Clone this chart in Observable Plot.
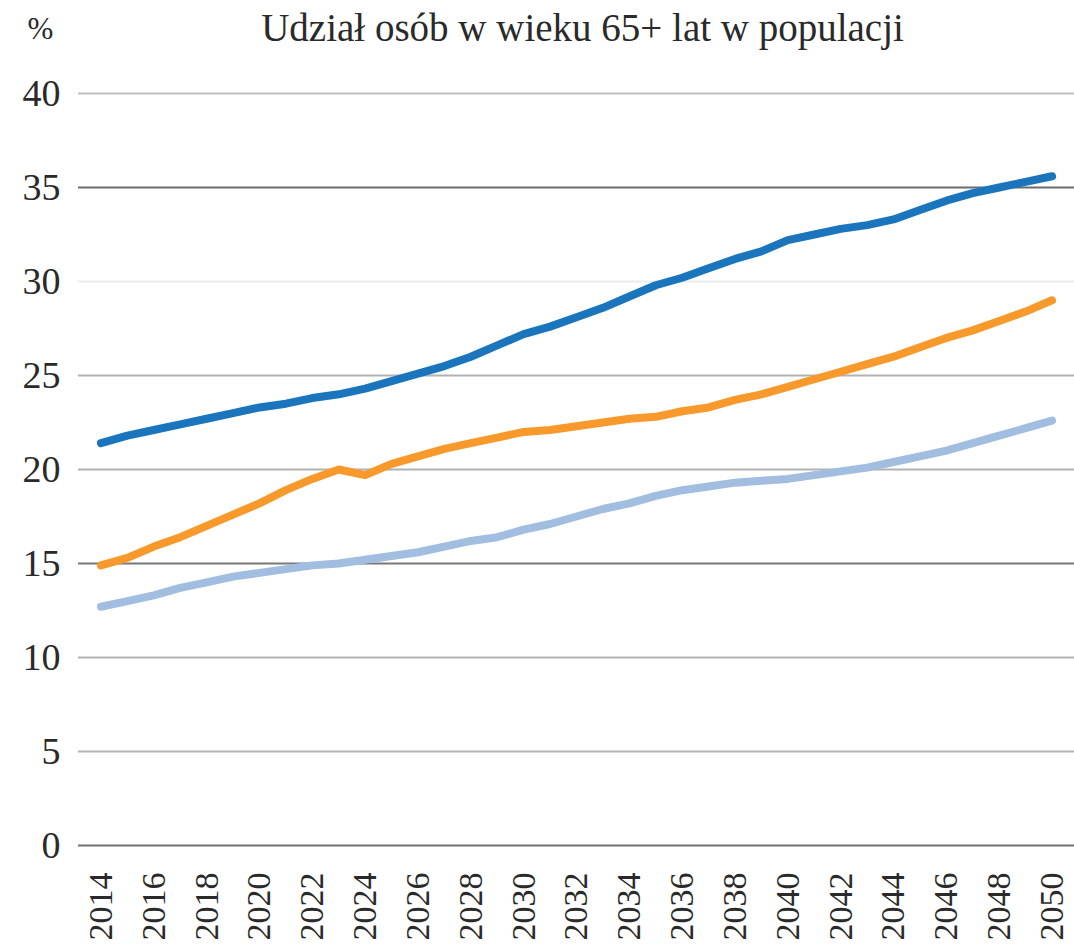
<!DOCTYPE html>
<html><head><meta charset="utf-8">
<script src="https://cdn.jsdelivr.net/npm/d3@7"></script>
<script src="https://cdn.jsdelivr.net/npm/@observablehq/plot@0.6"></script>
<style>body{margin:0;background:#fff} svg{display:block}</style>
</head><body><div id="chart"></div>
<script>
const years = [2014,2015,2016,2017,2018,2019,2020,2021,2022,2023,2024,2025,2026,2027,2028,2029,2030,2031,2032,2033,2034,2035,2036,2037,2038,2039,2040,2041,2042,2043,2044,2045,2046,2047,2048,2049,2050];
const seriesDark = [21.4,21.8,22.1,22.4,22.7,23.0,23.3,23.5,23.8,24.0,24.3,24.7,25.1,25.5,26.0,26.6,27.2,27.6,28.1,28.6,29.2,29.8,30.2,30.7,31.2,31.6,32.2,32.5,32.8,33.0,33.3,33.8,34.3,34.7,35.0,35.3,35.6];
const seriesOrange = [14.9,15.3,15.9,16.4,17.0,17.6,18.2,18.9,19.5,20.0,19.7,20.3,20.7,21.1,21.4,21.7,22.0,22.1,22.3,22.5,22.7,22.8,23.1,23.3,23.7,24.0,24.4,24.8,25.2,25.6,26.0,26.5,27.0,27.4,27.9,28.4,29.0];
const seriesLight = [12.7,13.0,13.3,13.7,14.0,14.3,14.5,14.7,14.9,15.0,15.2,15.4,15.6,15.9,16.2,16.4,16.8,17.1,17.5,17.9,18.2,18.6,18.9,19.1,19.3,19.4,19.5,19.7,19.9,20.1,20.4,20.7,21.0,21.4,21.8,22.2,22.6];
const yTicks = [0,5,10,15,20,25,30,35,40];
const xTicks = [2014,2016,2018,2020,2022,2024,2026,2028,2030,2032,2034,2036,2038,2040,2042,2044,2046,2048,2050];
const title = "Udział osób w wieku 65+ lat w populacji";
const unit = "%";

// styles
const gridStroke = {0:"#707070",5:"#b4b4b4",10:"#b4b4b4",15:"#787878",20:"#b2b2b2",25:"#b2b2b2",30:"#ececec",35:"#6c6c6c",40:"#c0c0c0"};
const lineColors = ["#1a75bd","#f7992b","#a1bde0"];

const toRows = vals => years.map((yr, i) => ({year: yr, value: vals[i]}));

const chart = Plot.plot({
  width: 1074, height: 952,
  marginTop: 93, marginBottom: 107, marginLeft: 78, marginRight: 0,
  style: {fontFamily: "'Liberation Serif', 'Times New Roman', serif", fontSize: "38px", color: "#2a2a2a", background: "#fff", overflow: "visible"},
  x: {domain: [2013.15, 2050.85]},
  y: {domain: [0, 40]},
  marks: [
    ...yTicks.map(t => Plot.ruleY([t], {stroke: gridStroke[t], strokeWidth: 2})),
    Plot.axisY({ticks: yTicks, tickSize: 0, tickPadding: 18, label: null, fontSize: 38}),
    Plot.axisX({ticks: xTicks, tickFormat: d => String(d), tickRotate: -90, tickSize: 0, tickPadding: 27, label: null, fontSize: 34}),
    Plot.line(toRows(seriesLight), {x: "year", y: "value", stroke: lineColors[2], strokeWidth: 8, strokeLinecap: "round", strokeLinejoin: "round"}),
    Plot.line(toRows(seriesOrange), {x: "year", y: "value", stroke: lineColors[1], strokeWidth: 8, strokeLinecap: "round", strokeLinejoin: "round"}),
    Plot.line(toRows(seriesDark), {x: "year", y: "value", stroke: lineColors[0], strokeWidth: 8, strokeLinecap: "round", strokeLinejoin: "round"}),
    Plot.text([title], {frameAnchor: "top", dx: 6, dy: -53, lineAnchor: "bottom", fontSize: 39, fill: "#2a2a2a"}),
    Plot.text([unit], {frameAnchor: "top-left", dx: -38, dy: -55, lineAnchor: "bottom", fontSize: 31, textAnchor: "middle", fill: "#2a2a2a"})
  ]
});
document.getElementById("chart").appendChild(chart);
</script>
</body></html>
